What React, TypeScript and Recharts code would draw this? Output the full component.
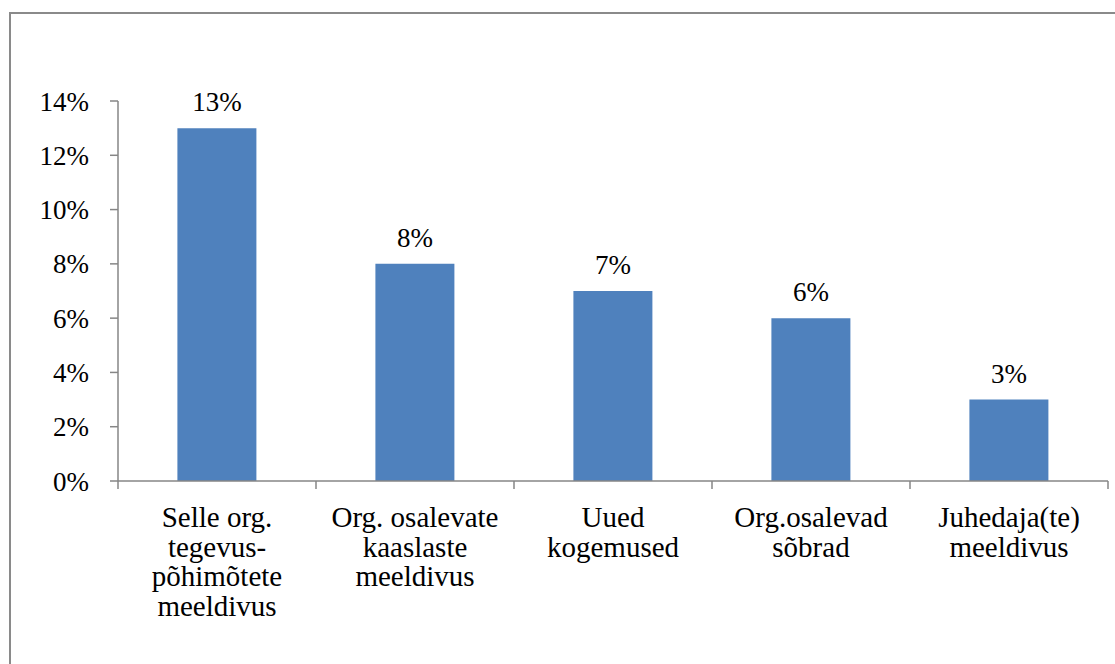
import React from "react";
import { BarChart, Bar, XAxis, YAxis, LabelList } from "recharts";

const categories = [
  "Selle org.\ntegevus-\npõhimõtete\nmeeldivus",
  "Org. osalevate\nkaaslaste\nmeeldivus",
  "Uued\nkogemused",
  "Org.osalevad\nsõbrad",
  "Juhedaja(te)\nmeeldivus",
];
const values = [0.13, 0.08, 0.07, 0.06, 0.03];
const yTicks = [0, 0.02, 0.04, 0.06, 0.08, 0.1, 0.12, 0.14];

const data = categories.map((c, i) => ({ name: c, value: values[i] }));

const W = 1115;
const H = 664;
const FONT = "Liberation Serif";
const AXIS = "#868686";
const MARGIN = { top: 101, right: 7, left: 8, bottom: 33 };
const Y_W = 110;
const FS = 27;
const CAT_FS = 29;
const LINE_H = 29.7;

const pct = (v: number) => `${Math.round(v * 100)}%`;

const CatTick = (props: any) => {
  const { x, y, payload, index } = props;
  const plotW = W - MARGIN.left - Y_W - MARGIN.right;
  const half = payload && typeof payload.offset === "number" && payload.offset > 0 ? payload.offset : plotW / categories.length / 2;
  const lines = String(payload.value).split("\n");
  return (
    <g>
      <line x1={x - half} x2={x - half} y1={y} y2={y + 8} stroke={AXIS} strokeWidth={1.5} />
      {index === categories.length - 1 && (
        <line x1={x + half} x2={x + half} y1={y} y2={y + 8} stroke={AXIS} strokeWidth={1.5} />
      )}
      <text x={x} y={y + 46} textAnchor="middle" fontFamily={FONT} fontSize={CAT_FS} fill="#000">
        {lines.map((l, i) => (
          <tspan key={i} x={x} dy={i === 0 ? 0 : LINE_H}>
            {l}
          </tspan>
        ))}
      </text>
    </g>
  );
};

export default function App() {
  return (
    <div style={{ position: "absolute", left: 0, top: 0, width: W, height: H, overflow: "hidden", background: "#fff" }}>
      <div
        style={{
          position: "absolute",
          left: 9,
          top: 12,
          width: 1300,
          height: 900,
          border: "2px solid #8a8a8a",
          boxSizing: "border-box",
        }}
      />
      <div style={{ position: "absolute", left: 0, top: 0 }}>
        <BarChart width={W} height={H} data={data} margin={MARGIN} barCategoryGap="30%">
          <XAxis
            dataKey="name"
            interval={0}
            tickSize={0}
            tickMargin={0}
            tickLine={false}
            axisLine={{ stroke: AXIS, strokeWidth: 1.5 }}
            height={150}
            tick={<CatTick />}
          />
          <YAxis
            width={Y_W}
            domain={[0, 0.14]}
            ticks={yTicks}
            interval={0}
            tickFormatter={pct}
            tickSize={8}
            tickMargin={21}
            axisLine={{ stroke: AXIS, strokeWidth: 1.5 }}
            tickLine={{ stroke: AXIS, strokeWidth: 1.5 }}
            tick={{ fontFamily: FONT, fontSize: FS, fill: "#000" }}
          />
          <Bar dataKey="value" fill="#4F81BD" isAnimationActive={false}>
            <LabelList
              dataKey="value"
              position="top"
              offset={17}
              formatter={(v: any) => pct(Number(v))}
              fontFamily={FONT}
              fontSize={FS}
              fill="#000"
            />
          </Bar>
        </BarChart>
      </div>
    </div>
  );
}
